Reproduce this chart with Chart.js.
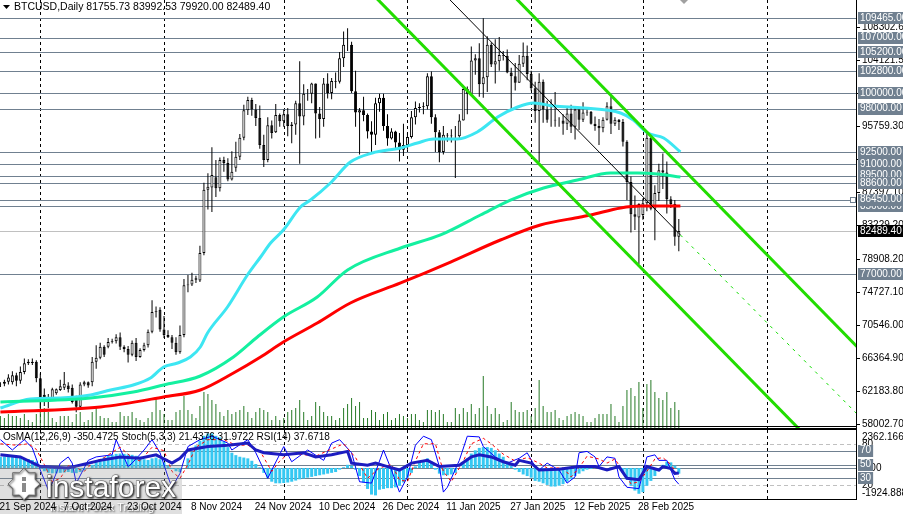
<!DOCTYPE html>
<html>
<head>
<meta charset="utf-8">
<script src="https://cdn.jsdelivr.net/npm/chart.js@4.4.1/dist/chart.umd.min.js"></script>
<style>
  html, body { margin: 0; padding: 0; background: #fff; }
  #wrap { position: relative; width: 903px; height: 514px; overflow: hidden; }
  canvas { position: absolute; left: 0; }
  #main { top: 0; }
  #ind { top: 429px; }
</style>
</head>
<body>
<div id="wrap">
  <canvas id="main" width="903" height="429"></canvas>
  <canvas id="ind" width="903" height="85"></canvas>
</div>
<script>
// ---- data (bar index 0 = 21 Sep 2024, daily bars incl. weekends) ----
const dateTicks = ['21 Sep 2024', '7 Oct 2024', '23 Oct 2024', '8 Nov 2024', '24 Nov 2024', '10 Dec 2024',
                   '26 Dec 2024', '11 Jan 2025', '27 Jan 2025', '12 Feb 2025', '28 Feb 2025'];
const dateTickIdx = [0, 16, 32, 48, 64, 80, 96, 112, 128, 144, 160];
const monthStarts = [10, 41, 71, 102, 133, 161, 192];

const open = [63000,63100,63350,63300,64200,63500,64600,65700,65900,65900,
  63800,61700,61250,61200,61900,62300,62600,62900,62600,61300,
  60200,63000,63300,63300,65900,66400,67800,67800,68400,68500,
  69000,67800,67500,66800,68300,66500,67400,68000,69700,72200,
  72500,70000,69300,69000,68300,67100,69300,75600,75700,76300,
  76200,79700,87700,88000,89300,87900,91500,91100,89000,90500,
  91900,94300,97800,99100,97900,96800,93400,91500,95900,95000,
  97200,96400,97300,95800,96000,98700,97000,99900,99900,101200,
  97400,96700,101200,100000,101500,101400,104400,106100,106100,100200,
  97500,97800,97200,95100,94700,98700,99400,95800,94200,95100,
  93700,92800,93400,94400,96900,98100,98200,98300,102100,96900,
  95000,92500,94700,94600,94500,94500,96500,100500,99900,104100,
  104400,101100,102000,106100,103600,104000,104800,104700,102600,102100,
  101300,103700,104700,102400,100600,97700,101400,97900,96600,96600,
  96500,96500,96100,97400,95700,97900,96600,97500,97600,96100,
  95800,95500,96600,98300,96100,96600,96300,93800,88700,84600,
  84200,84500,86000,94300,85300,87300,90200,89900,86500,85900,
  81755.73];
const high = [63300,63600,64300,64700,64500,65300,66300,66200,66300,66100,
  64400,62500,61800,62600,62500,63600,64600,63300,63000,61600,
  63300,63500,63400,66500,68000,68300,68000,68900,68800,69400,
  69600,68000,67900,68600,68900,67600,68300,70000,73700,72900,
  72800,71700,69900,69300,69000,70500,76400,76900,77200,76800,
  80600,88600,89800,93100,91500,91800,91900,91700,92600,93800,
  94800,98500,99500,99400,98600,98400,94700,96900,96500,98600,
  97400,97900,98100,96300,99000,104000,101100,100500,101300,101200,
  98200,101900,102500,101900,102600,105200,107800,108200,106500,102800,
  98100,99500,97400,96400,99400,99900,99900,97300,95500,95200,
  94900,96100,94900,97700,98900,98700,98800,102500,102700,97300,
  95300,95800,94900,95400,95800,97300,100700,100800,105900,104900,
  106300,109465,107200,106400,106800,107100,105300,105500,103200,103800,
  104800,106400,106000,102800,101400,102500,101700,99000,99200,100100,
  96900,97300,98300,98500,98100,98000,98800,97900,97700,97000,
  96700,96900,98800,99500,96900,96700,96700,94000,89400,87000,
  86000,86600,95000,94500,88300,91000,92300,91300,86900,86400,
  83992.53];
const low = [62700,62800,63000,63000,62800,63100,64300,65500,65500,63300,
  60000,60300,60000,61000,61700,62200,62300,62000,60600,59500,
  60000,62800,62600,62800,65000,66200,66500,67600,68200,68200,
  67400,67100,65800,66600,66000,66400,67200,67700,69500,71500,
  69700,68900,68900,67500,66800,66900,69000,74700,75500,75900,
  76000,79400,85200,84900,86800,87500,90000,88800,88900,90000,
  91500,94000,97200,97100,95800,92900,90600,91200,94200,94900,
  95700,95700,94500,93600,94700,91000,95900,99000,98700,94200,
  94300,95700,99300,99200,100600,101200,103300,105300,100000,95700,
  92200,96400,94200,92400,93400,97600,95200,93300,94100,93000,
  91300,92000,92800,94200,96000,97500,97300,97900,96100,92500,
  91200,92200,93800,93700,89200,94300,96500,97300,99900,102300,
  99500,99400,100100,103300,101200,102800,104100,102500,97700,100300,
  101300,103300,101600,100300,96200,91200,96200,96200,95700,95700,
  95700,94700,95300,94900,94100,95300,96300,97100,96000,95200,
  93400,95000,96500,94800,95800,95300,93200,86400,82300,82600,
  78300,83900,85000,85100,81300,86300,87800,84700,85400,80600,
  79920.00];
const close = [63050,63350,63900,64200,63500,64600,65700,65900,65750,63800,
  61300,61200,61200,62400,62400,62800,63100,62400,60800,60200,
  63000,63300,62900,65900,66400,67800,66800,68400,68500,69000,
  67800,67500,66800,68300,66500,67400,68000,69700,72200,72300,
  70000,69300,69000,68300,67100,69300,75600,75700,76300,76500,
  79700,87700,88100,89600,87900,91500,91100,89000,90000,91900,
  94300,97800,99100,97900,96800,93400,91500,95900,94900,97200,
  96400,97300,95800,96000,98700,97000,99900,99900,101200,97400,
  96700,101200,100000,101500,101400,104400,106100,106100,100200,97500,
  97800,97200,95100,94700,98700,99400,95800,94200,95100,93700,
  92800,93400,94400,96900,98100,98200,98300,102100,96900,95000,
  92500,94700,94600,94500,94500,96500,100500,99900,104100,104400,
  101100,102000,106100,103600,104000,104800,104700,102600,102100,101300,
  103700,104700,102400,100600,97700,101400,97900,96600,96600,96500,
  96500,96100,97400,95700,97900,96600,97500,97600,96100,95800,
  95500,96600,98300,96100,96600,96300,93800,88700,84600,84300,
  85900,86000,94300,85300,87300,90200,89900,86500,85900,81755.73,
  82489.40];
const volume = [12,10,14,12,12,10,14,8,6,14,
  28,20,16,10,6,12,12,12,6,14,
  16,6,8,16,20,12,10,10,6,6,
  16,12,12,16,10,8,6,10,16,30,
  18,14,8,8,16,18,32,18,14,10,
  22,36,34,28,24,16,12,18,14,16,
  18,22,16,10,16,20,18,16,8,12,
  8,10,16,18,20,28,16,8,12,26,
  22,16,12,12,8,10,20,24,30,22,
  26,10,10,18,16,8,14,16,8,10,
  14,12,10,14,14,8,6,18,18,16,
  18,14,6,6,20,14,20,16,24,14,
  20,52,22,14,20,14,6,8,26,18,
  16,16,18,12,20,48,22,16,16,18,
  10,8,12,14,16,14,12,6,6,10,
  14,14,14,24,12,6,22,38,40,32,
  46,20,44,48,36,30,28,36,20,26,
  18];

// moving averages: [bar index, price]
const maFast = [[0,60030],[7.5,61170],[15,61300],[22.6,61680],[27.6,62315],[33.3,62950],[37.6,63830],
  [40.9,65230],[44.4,65740],[47.6,66500],[50.1,67770],[51.9,69545],[56.9,72843],[61.9,76900],[65.2,79185],
  [67.7,80960],[70.9,82610],[75.2,85530],[77.7,86410],[82.7,88570],[87.7,91230],[93.2,92380],[100.3,93010],
  [104.5,93640],[108.5,94150],[114.5,94150],[119.5,95040],[124.6,96940],[129.6,98210],[133.6,98720],
  [138.6,98340],[146.1,98080],[155.4,97450],[158.6,96560],[162.2,94910],[166.2,94280],[170.4,92500]];
const maMid = [[0,60793],[22.6,61300],[33.3,62062],[40.9,62950],[50.1,64090],[58.4,66500],[64.4,69040],
  [70.9,71570],[79.4,74110],[87,77540],[100.3,80330],[110.3,81980],[120.3,84510],[127.8,86410],
  [136.1,87940],[144.6,88950],[152.9,89840],[159.7,89840],[164.7,89710],[170.4,89330]];
const maSlow = [[0,59525],[25.1,60160],[40.9,61430],[50.1,62320],[58.4,64470],[65.2,66500],[70.9,68400],
  [79.4,70810],[87.7,73350],[100.3,75890],[112.8,78550],[125.3,81340],[135.3,83240],[145.4,84260],
  [147.9,84510],[155.4,85400],[160.4,85650],[170.4,85650]];

// trend lines: [bar index, price] end points
const trendLower = [[90,114200],[205,54860]];
const trendUpper = [[125,114160],[216,67113]];
const trendMid = [[108.8,113790],[170.4,81980]];
const trendMidRay = [[170.4,81980],[216,58585]];

// horizontal levels; 86450 is the selected one, drawn last
const levels = [109465, 107000, 105200, 102800, 100000, 98000, 92500, 91000, 89500, 88600, 85600, 77000, 86450];
const lastPrice = 82489.40;
const priceTicks = [108302.6, 104121.5, 99940.4, 95759.3, 91578.2, 87397.1, 83229.2,
                    78908.2, 74727.1, 70546.0, 66364.9, 62183.8, 58002.7];

// indicator window
const osma = [700,720,700,680,650,640,620,560,500,400,
  -50,-200,-300,-330,-330,-300,-280,-250,-300,-320,
  -250,-150,0,200,400,550,650,750,820,880,
  900,880,850,820,760,700,550,500,600,650,
  550,350,150,-50,-200,-250,0,600,1000,1400,
  1700,2000,2150,2150,2000,1900,1650,1300,950,800,
  700,650,600,450,250,50,-300,-600,-850,-950,
  -950,-930,-900,-850,-780,-700,-650,-600,-550,-500,
  -450,-400,-350,-300,-250,-100,50,200,150,-100,
  -500,-900,-1300,-1650,-1700,-1350,-1300,-1250,-1250,-1200,
  -1100,-900,-600,-300,100,350,500,600,400,-100,
  -350,-450,-450,-400,-300,0,300,600,900,1100,
  1250,1300,1300,1250,1100,900,700,400,150,-100,
  -250,-400,-500,-600,-800,-850,-950,-1050,-1150,-1150,
  -1100,-1000,-850,-700,-500,-350,-200,-100,-50,0,
  -50,-50,0,50,0,-50,-300,-700,-1100,-1400,
  -1600,-1500,-1100,-800,-500,-200,200,400,350,150,
  -350];
const stochMain = [[0,86],[3,71],[6,86],[8,74],[10,42],[12,13],[13,23],[15,52],[17,61],[18,52],[19,23],
  [22,56],[24,61],[28,64],[29,86],[32,47],[33,52],[36,71],[38,86],[40,67],[42,32],[43,17],[45,37],[47,76],
  [50,86],[53,91],[57,81],[58,71],[62,86],[64,67],[67,30],[68,42],[71,76],[73,54],[77,71],[81,56],[83,81],
  [85,86],[88,67],[90,25],[93,23],[96,71],[98,42],[100,10],[102,32],[104,78],[106,91],[108,86],[110,47],
  [111,10],[112,17],[115,56],[117,91],[120,90],[121,76],[124,61],[127,52],[130,59],[132,67],[134,47],
  [135,42],[137,52],[140,42],[142,23],[144,32],[145,67],[147,69],[149,61],[150,47],[152,61],[154,59],
  [155,32],[157,17],[160,15],[162,61],[164,64],[165,56],[167,56],[169,28],[170,21.4376]];
const stochSignal = [[0,80],[4,78],[7,80],[9,72],[11,50],[13,25],[15,30],[17,48],[19,45],[21,40],[23,52],
  [26,60],[30,75],[33,60],[35,55],[38,75],[41,70],[43,40],[45,30],[47,50],[49,75],[52,86],[56,86],[59,78],
  [62,78],[65,70],[68,40],[70,55],[72,65],[75,65],[79,62],[82,70],[86,80],[89,60],[92,30],[95,45],[98,50],
  [100,28],[102,25],[104,55],[106,80],[109,80],[111,40],[113,25],[116,55],[118,80],[121,88],[123,80],
  [126,65],[129,55],[132,60],[135,52],[137,45],[141,45],[143,32],[145,45],[147,62],[150,58],[152,52],
  [154,58],[156,40],[158,22],[160,25],[162,40],[164,58],[166,60],[168,50],[170,31.9722]];
const rsi = [[0,64],[5,61],[10,47],[17,45],[25,56],[30,61],[35,59],[39,64],[43,52],[45,59],[47,71],[52,76],
  [57,78],[62,81],[64,71],[66,67],[71,64],[76,67],[79,61],[83,64],[87,69],[88,52],[92,49],[94,52],[97,47],
  [100,42],[103,52],[107,56],[110,47],[115,49],[118,61],[120,64],[123,61],[126,54],[129,49],[130,56],
  [133,52],[135,42],[140,43],[145,47],[149,47],[152,42],[155,47],[157,30],[160,28],[162,47],[165,42],
  [166,47],[168,44],[169,37],[170,37.6718]];
const indLevels = [70, 50, 30];
const indDashed = [80, 20];

// ---- helpers ----
const FONT = '10px "Liberation Sans", Arial, sans-serif';
const SLATE = '#708090';
const X_MIN = -0.1, X_MAX = 214.4;
const bars = open.map((_, i) => i);
const pts = arr => arr.map(p => ({ x: p[0], y: p[1] }));

function box(ctx, text, y, bg, fg) {
  const w = ctx.measureText(text).width + 4;
  ctx.fillStyle = bg;
  ctx.fillRect(858, Math.round(y) - 6, w, 12);
  ctx.fillStyle = fg;
  ctx.fillText(text, 860, y);
}

function monthGrid(ctx, a, x) {
  ctx.strokeStyle = '#000';
  ctx.lineWidth = 1;
  ctx.setLineDash([3, 3]);
  monthStarts.forEach(i => {
    const px = Math.round(x.getPixelForValue(i)) + 0.5;
    ctx.beginPath(); ctx.moveTo(px, a.top); ctx.lineTo(px, a.bottom); ctx.stroke();
  });
  ctx.setLineDash([]);
}

// ---- main window ----
const mainDecor = {
  id: 'mainDecor',
  beforeDatasetsDraw(chart) {
    const { ctx, chartArea: a, scales: { x, y } } = chart;
    ctx.save();
    monthGrid(ctx, a, x);
    ctx.lineWidth = 1;
    ctx.strokeStyle = SLATE;
    levels.forEach(v => {
      const py = Math.round(y.getPixelForValue(v)) + 0.5;
      ctx.beginPath(); ctx.moveTo(a.left, py); ctx.lineTo(a.right, py); ctx.stroke();
    });
    ctx.strokeStyle = '#c0c0c0';
    const lp = Math.round(y.getPixelForValue(lastPrice)) + 0.5;
    ctx.beginPath(); ctx.moveTo(a.left, lp); ctx.lineTo(a.right, lp); ctx.stroke();
    ctx.restore();
  },
  afterDraw(chart) {
    const { ctx, chartArea: a, scales: { y } } = chart;
    ctx.save();
    // frame
    ctx.strokeStyle = '#000';
    ctx.lineWidth = 1;
    ctx.beginPath();
    ctx.moveTo(856.5, 0); ctx.lineTo(856.5, a.bottom);
    ctx.moveTo(0, 426.5); ctx.lineTo(857, 426.5);
    ctx.moveTo(0, 428.5); ctx.lineTo(857, 428.5);
    ctx.stroke();
    // small square on the selected 86450 level
    const sq = Math.round(y.getPixelForValue(86450));
    ctx.fillStyle = '#fff'; ctx.strokeStyle = SLATE;
    ctx.fillRect(850, sq - 3, 6, 6); ctx.strokeRect(850.5, sq - 2.5, 5, 5);
    // chart shift marker
    ctx.fillStyle = '#a0a0a0';
    ctx.beginPath(); ctx.moveTo(680, 0); ctx.lineTo(688, 0); ctx.lineTo(684, 4); ctx.closePath(); ctx.fill();

    ctx.font = FONT;
    ctx.textBaseline = 'middle';
    ctx.textAlign = 'left';
    // price ticks
    ctx.strokeStyle = '#000';
    priceTicks.forEach(v => {
      const py = Math.round(y.getPixelForValue(v)) + 0.5;
      ctx.beginPath(); ctx.moveTo(856, py); ctx.lineTo(860, py); ctx.stroke();
      ctx.fillStyle = '#000';
      ctx.fillText(v.toFixed(2), 862, py);
    });
    // level labels
    levels.forEach(v => box(ctx, v.toFixed(2), y.getPixelForValue(v), SLATE, '#fff'));
    box(ctx, lastPrice.toFixed(2), y.getPixelForValue(lastPrice), '#000', '#fff');

    // header
    ctx.fillStyle = '#000';
    ctx.beginPath(); ctx.moveTo(3, 5); ctx.lineTo(10, 5); ctx.lineTo(6.5, 9); ctx.closePath(); ctx.fill();
    ctx.font = '10.5px "Liberation Sans", Arial, sans-serif';
    ctx.fillText('BTCUSD,Daily 81755.73 83992.53 79920.00 82489.40', 14, 7);
    ctx.restore();
  }
};

const lineDs = (arr, color, width, extra) => Object.assign({
  type: 'line', data: pts(arr), borderColor: color, borderWidth: width,
  pointRadius: 0, fill: false, order: 1, cubicInterpolationMode: 'monotone'
}, extra || {});

new Chart(document.getElementById('main'), {
  type: 'bar',
  data: {
    datasets: [
      { label: 'volume', yAxisID: 'vol', data: bars.map(i => ({ x: i, y: volume[i] })),
        backgroundColor: '#267a26', barThickness: 1, grouped: false, inflateAmount: 0, order: 5 },
      { label: 'wick', data: bars.map(i => ({ x: i, y: [low[i], high[i]] })),
        backgroundColor: '#000', barThickness: 1, grouped: false, inflateAmount: 0, order: 4 },
      { label: 'body', data: bars.map(i => ({ x: i, y: [open[i], close[i]] })),
        backgroundColor: bars.map(i => close[i] >= open[i] ? '#fff' : '#000'),
        borderColor: '#000', borderWidth: 1, borderSkipped: false,
        barThickness: 3, grouped: false, inflateAmount: 0, order: 3 },
      lineDs(maSlow, '#ff0000', 3),
      lineDs(maMid, '#14f0a0', 3),
      lineDs(maFast, '#3de6f2', 3),
      lineDs(trendLower, '#22dd00', 3, { order: 0, cubicInterpolationMode: 'default' }),
      lineDs(trendUpper, '#22dd00', 3, { order: 0, cubicInterpolationMode: 'default' }),
      lineDs(trendMid, '#000', 1, { order: 0, cubicInterpolationMode: 'default' }),
      lineDs(trendMidRay, '#11dd00', 1, { order: 0, borderDash: [3, 5], cubicInterpolationMode: 'default' })
    ]
  },
  options: {
    responsive: false, animation: false, events: [],
    layout: { padding: { left: 0, right: 47, top: 0, bottom: 1 } },
    plugins: { legend: { display: false }, tooltip: { enabled: false } },
    scales: {
      x: { type: 'linear', min: X_MIN, max: X_MAX, offset: false, display: false },
      y: { min: 57495, max: 111783, display: false },
      vol: { min: 0, max: 428, display: false }
    }
  },
  plugins: [mainDecor]
});

// ---- indicator window ----
const indDecor = {
  id: 'indDecor',
  beforeDatasetsDraw(chart) {
    const { ctx, chartArea: a, scales: { x, pct, osm } } = chart;
    ctx.save();
    monthGrid(ctx, a, x);
    ctx.lineWidth = 1;
    ctx.strokeStyle = '#c0c0c0';
    ctx.setLineDash([4, 3]);
    indDashed.forEach(v => {
      const py = Math.round(pct.getPixelForValue(v)) + 0.5;
      ctx.beginPath(); ctx.moveTo(a.left, py); ctx.lineTo(a.right, py); ctx.stroke();
    });
    ctx.setLineDash([]);
    ctx.strokeStyle = SLATE;
    indLevels.forEach(v => {
      const py = Math.round(pct.getPixelForValue(v)) + 0.5;
      ctx.beginPath(); ctx.moveTo(a.left, py); ctx.lineTo(a.right, py); ctx.stroke();
    });
    const z = Math.round(osm.getPixelForValue(0)) + 0.5;
    ctx.beginPath(); ctx.moveTo(a.left, z); ctx.lineTo(a.right, z); ctx.stroke();
    ctx.restore();
  },
  afterDraw(chart) {
    const { ctx, chartArea: a, scales: { x, pct, osm } } = chart;
    ctx.save();
    ctx.strokeStyle = '#000';
    ctx.lineWidth = 1;
    ctx.strokeRect(-1, 0.5, 857.5, a.bottom);

    // watermark
    ctx.fillStyle = 'rgba(140,140,140,0.28)';
    ctx.fillRect(0, 37, 182, 48);
    ctx.save();
    ctx.shadowColor = 'rgba(40,40,40,0.95)';
    ctx.shadowOffsetX = 1; ctx.shadowOffsetY = 1; ctx.shadowBlur = 2;
    ctx.fillStyle = '#fff';
    ctx.strokeStyle = '#6a6a6a';
    ctx.lineWidth = 1;
    const cx = 24, cy = 55;
    ctx.beginPath();
    for (let k = 0; k < 16; k++) {
      const ang = k * Math.PI / 8;
      const r = k % 2 === 0 ? 16 : 12;
      const px = cx + r * Math.cos(ang), py = cy + r * Math.sin(ang);
      k === 0 ? ctx.moveTo(px, py) : ctx.lineTo(px, py);
    }
    ctx.closePath(); ctx.fill(); ctx.stroke();
    ctx.font = '30px "Liberation Sans", Arial, sans-serif';
    ctx.textBaseline = 'alphabetic';
    ctx.strokeText('instaforex', 46, 68);
    ctx.fillText('instaforex', 46, 68);
    ctx.font = '11px "Liberation Sans", Arial, sans-serif';
    ctx.fillText('Instant Forex Trading', 50, 82);
    ctx.restore();
    ctx.fillStyle = '#8a8a8a';
    ctx.fillRect(cx - 2, cy - 7, 4, 4);
    ctx.fillRect(cx - 2, cy - 1, 4, 9);

    ctx.font = FONT;
    ctx.textBaseline = 'middle';
    ctx.textAlign = 'left';
    ctx.fillStyle = '#000';
    ctx.fillText('OsMA(12,26,9) -350.4725 Stoch(5,3,3) 21.4376 31.9722 RSI(14) 37.6718', 3, 8);

    // right scale
    ctx.fillText('2362.166', 862, osm.getPixelForValue(2362.166) + 7);
    ctx.fillText('80', 862, pct.getPixelForValue(80));
    ctx.fillText('0.00', 862, osm.getPixelForValue(0));
    ctx.fillText('20', 862, pct.getPixelForValue(20));
    ctx.fillText('-1924.888', 862, osm.getPixelForValue(-1924.888) - 6);
    indLevels.forEach(v => box(ctx, String(v), pct.getPixelForValue(v), SLATE, '#fff'));

    // date axis
    ctx.fillStyle = '#000';
    dateTicks.forEach((t, k) => {
      ctx.fillText(t, x.getPixelForValue(dateTickIdx[k]) - 1, 78);
    });
    ctx.restore();
  }
};

new Chart(document.getElementById('ind'), {
  type: 'bar',
  data: {
    datasets: [
      { label: 'OsMA', yAxisID: 'osm', data: bars.map(i => ({ x: i, y: osma[i] })),
        backgroundColor: '#35c8f2', barThickness: 3, grouped: false, inflateAmount: 0, order: 4 },
      { type: 'line', label: 'Stoch', yAxisID: 'pct', data: pts(stochMain), borderColor: '#0000ff',
        borderWidth: 1, pointRadius: 0, order: 3 },
      { type: 'line', label: 'Signal', yAxisID: 'pct', data: pts(stochSignal), borderColor: '#ff0000',
        borderWidth: 1, borderDash: [3, 3], pointRadius: 0, order: 2 },
      { type: 'line', label: 'RSI', yAxisID: 'pct', data: pts(rsi), borderColor: '#1c1cc0',
        borderWidth: 3, pointRadius: 0, order: 1 }
    ]
  },
  options: {
    responsive: false, animation: false, events: [],
    layout: { padding: { left: 0, right: 47, top: 1, bottom: 15 } },
    plugins: { legend: { display: false }, tooltip: { enabled: false } },
    scales: {
      x: { type: 'linear', min: X_MIN, max: X_MAX, offset: false, display: false },
      pct: { min: 0, max: 100, display: false },
      osm: { min: -1924.888, max: 2362.166, display: false }
    }
  },
  plugins: [indDecor]
});
</script>
</body>
</html>
